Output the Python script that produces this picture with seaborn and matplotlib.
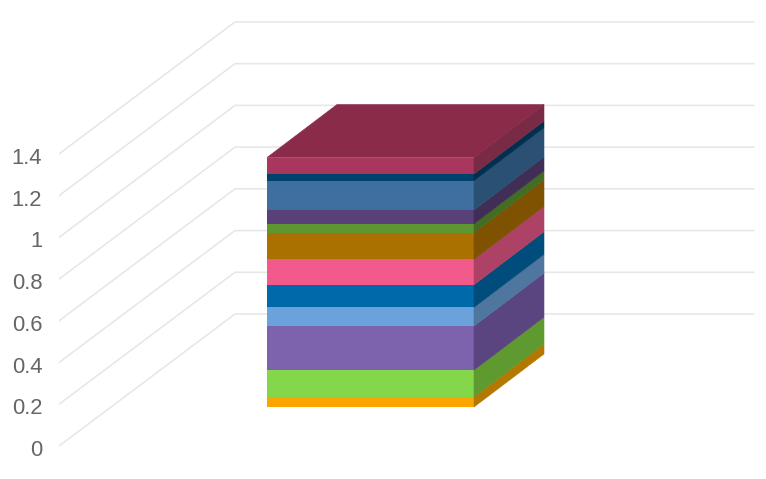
import matplotlib
matplotlib.use("Agg")
import matplotlib.pyplot as plt
from matplotlib.transforms import ScaledTranslation
import seaborn as sns

# Stack segments, bottom to top
segments = ["s1", "s2", "s3", "s4", "s5", "s6", "s7", "s8", "s9", "s10", "s11", "s12"]
values = [0.048, 0.129, 0.211, 0.090, 0.108, 0.122, 0.128, 0.042, 0.067, 0.140, 0.032, 0.079]
front_colors = ["#faa500", "#84d64a", "#7d62ad", "#6ca2dc", "#0069aa", "#f25a8c",
                "#aa7000", "#5e9630", "#5a4078", "#3f6fa0", "#00426e", "#a8365e"]
side_colors = ["#b47800", "#5f9a30", "#5a4580", "#4f769f", "#004c7a", "#ae4166",
               "#7e5200", "#436d22", "#412e57", "#2a5074", "#002f50", "#792a44"]
top_color = "#8a2b4a"
ticks = [0, 0.2, 0.4, 0.6, 0.8, 1, 1.2, 1.4]
tick_labels = ["0", "0.2", "0.4", "0.6", "0.8", "1", "1.2", "1.4"]

# Fake 3D layout, x axis is in pixels
W, H = 766, 479
PX_PER_UNIT = 208.6
ZERO_Y = 446
LEFT, WALL_X, RIGHT = 59, 235, 754
BAR_LEFT, BAR_RIGHT = 267, 474
BAR_OFFSET, BAR_DEPTH = 52, 70
RISE = 0.75 / PX_PER_UNIT  # value units per pixel of depth

sns.set_theme(style="white")
plt.rcParams["font.family"] = ["Liberation Sans", "DejaVu Sans"]

fig = plt.figure(figsize=(W / 100, H / 100), dpi=100)
ax = fig.add_axes([LEFT / W, 0, (W - LEFT) / W, 1])

# Grid lines run back along the floor, then across the back wall
wall_rise = (WALL_X - LEFT) * RISE
for t in ticks:
    ax.plot([LEFT, WALL_X, RIGHT], [t, t + wall_rise, t + wall_rise],
            color="#e6e6e6", lw=1.1, zorder=1)

# Front faces and side faces, a thin edge hides the seams
base = BAR_OFFSET * RISE
back_rise = 53 / PX_PER_UNIT
bottom = 0
for name, v, front, side in zip(segments, values, front_colors, side_colors):
    y0 = bottom + base
    sns.barplot(x=[(BAR_LEFT + BAR_RIGHT) / 2], y=[v], bottom=y0, width=BAR_RIGHT - BAR_LEFT,
                native_scale=True, color=front, saturation=1, linewidth=0, ax=ax, zorder=3)
    ax.fill([BAR_RIGHT, BAR_RIGHT + BAR_DEPTH, BAR_RIGHT + BAR_DEPTH, BAR_RIGHT],
            [y0, y0 + back_rise, y0 + v + back_rise, y0 + v],
            facecolor=side, edgecolor=side, lw=0.4, zorder=3)
    bottom += v

# Top face
y_top = bottom + base
ax.fill([BAR_LEFT, BAR_RIGHT, BAR_RIGHT + BAR_DEPTH, BAR_LEFT + BAR_DEPTH],
        [y_top, y_top, y_top + back_rise, y_top + back_rise],
        facecolor=top_color, edgecolor=top_color, lw=0.4, zorder=4)

ax.set_xlim(LEFT, W)
ax.set_ylim(-(H - ZERO_Y) / PX_PER_UNIT, ZERO_Y / PX_PER_UNIT)
ax.set_xticks([])
ax.set_yticks(ticks)
ax.set_yticklabels(tick_labels, fontsize=15.8, color="#666666")
ax.tick_params(axis="y", length=0, pad=12)
ax.set_xlabel("")
ax.set_ylabel("")
sns.despine(ax=ax, left=True, bottom=True)
ax.patch.set_alpha(0)

# Labels sit a little under their grid line start
shift = ScaledTranslation(0, -2 / 100, fig.dpi_scale_trans)
for label in ax.get_yticklabels():
    label.set_transform(label.get_transform() + shift)

fig.savefig("out.png", dpi=100)
